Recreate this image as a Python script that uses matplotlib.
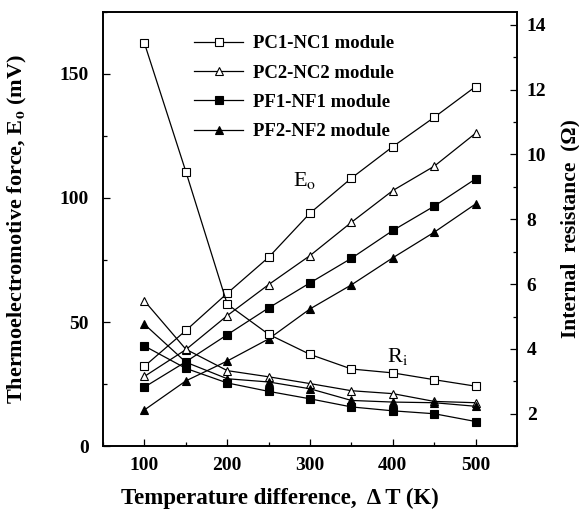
import matplotlib
matplotlib.use("Agg")
import matplotlib.pyplot as plt
from matplotlib.ticker import MultipleLocator

plt.rcParams['font.family'] = ['Liberation Serif', 'DejaVu Serif']
plt.rcParams['mathtext.fontset'] = 'stix'

# temperature difference (K)
dT = [100, 150, 200, 250, 300, 350, 400, 450, 500]

# thermoelectromotive force E_o (mV)
E_pc1 = [32.2, 46.6, 61.6, 76.1, 93.9, 108.0, 120.7, 132.5, 144.9]
E_pc2 = [28.1, 38.9, 52.6, 65.1, 76.8, 90.2, 103.0, 112.8, 126.1]
E_pf1 = [23.8, 34.0, 44.9, 55.7, 65.8, 75.7, 86.9, 96.7, 107.7]
E_pf2 = [14.6, 26.3, 34.3, 43.2, 55.3, 65.0, 75.9, 86.2, 97.6]

# internal resistance R_i (ohm)
R_pc1 = [13.43, 9.47, 5.38, 4.45, 3.83, 3.38, 3.26, 3.05, 2.85]
R_pc2 = [5.48, 3.99, 3.33, 3.14, 2.93, 2.71, 2.62, 2.38, 2.34]
R_pf1 = [4.09, 3.40, 2.95, 2.69, 2.46, 2.21, 2.09, 2.00, 1.76]
R_pf2 = [4.76, 3.59, 3.08, 2.98, 2.77, 2.41, 2.36, 2.34, 2.23]

labels = ['PC1-NC1 module', 'PC2-NC2 module', 'PF1-NF1 module', 'PF2-NF2 module']
markers = ['s', '^', 's', '^']
fills = ['white', 'white', 'black', 'black']

fig = plt.figure(figsize=(5.79, 5.14), dpi=100)
ax = fig.add_axes([0.178, 0.132, 0.715, 0.845])
ax2 = ax.twinx()

handles = []
for e, r, lab, m, fc in zip([E_pc1, E_pc2, E_pf1, E_pf2], [R_pc1, R_pc2, R_pf1, R_pf2],
                            labels, markers, fills):
    h, = ax.plot(dT, e, color='black', lw=0.9, marker=m, ms=5.5, mfc=fc,
                 mec='black', mew=0.8, label=lab)
    ax2.plot(dT, r, color='black', lw=0.9, marker=m, ms=5.5, mfc=fc,
             mec='black', mew=0.8)
    handles.append(h)

ax.set_xlim(50, 550)
ax.set_ylim(0, 175)
ax2.set_ylim(1, 14.4)

ax.xaxis.set_major_locator(MultipleLocator(100))
ax.xaxis.set_minor_locator(MultipleLocator(50))
ax.yaxis.set_major_locator(MultipleLocator(50))
ax.yaxis.set_minor_locator(MultipleLocator(25))
ax2.yaxis.set_minor_locator(MultipleLocator(1))
ax2.set_yticks([2, 4, 6, 8, 10, 12, 14])

for a in (ax, ax2):
    a.tick_params(which='both', direction='in', labelsize=14)
    a.tick_params(which='major', length=5, width=0.9)
    a.tick_params(which='minor', length=3, width=0.9)
    for lbl in a.get_xticklabels() + a.get_yticklabels():
        lbl.set_fontweight('bold')
    for s in a.spines.values():
        s.set_linewidth(1.2)
ax.tick_params(axis='x', pad=8)
ax.tick_params(axis='y', pad=10)
ax2.tick_params(axis='y', pad=7)

ax.set_xlabel('Temperature difference,  Δ T (K)', fontsize=16.5, fontweight='bold')
ax.xaxis.set_label_coords(0.428, -0.095)
ax.set_ylabel('Thermoelectromotive force, E$_\\mathbf{o}$ (mV)', fontsize=16,
              fontweight='bold')
ax.yaxis.set_label_coords(-0.18, 0.5)
ax2.set_ylabel('Internal  resistance  (Ω)', fontsize=15.5, fontweight='bold')
ax2.yaxis.set_label_coords(1.104, 0.5)

ax.text(294, 107, 'E$_\\mathrm{o}$', fontsize=16, ha='center', va='center')
ax.text(406, 36, 'R$_\\mathrm{i}$', fontsize=16, ha='center', va='center')

ax.legend(handles=handles, loc='upper left', bbox_to_anchor=(0.18, 0.985), frameon=False,
          prop={'weight': 'bold', 'size': 13.5}, handlelength=2.6, labelspacing=0.65,
          handletextpad=0.5)

fig.savefig('out.png', dpi=100)
